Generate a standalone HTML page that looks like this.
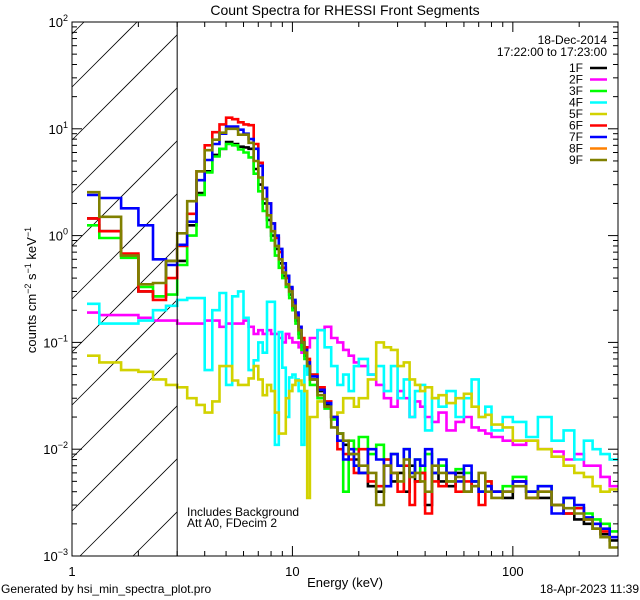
<!DOCTYPE html>
<html><head><meta charset="utf-8"><style>
html,body{margin:0;padding:0;background:#fff;width:640px;height:600px;overflow:hidden;}
svg{display:block;font-family:"Liberation Sans",sans-serif;}
</style></head><body>
<svg id="chart" width="640" height="600" viewBox="0 0 640 600" xmlns="http://www.w3.org/2000/svg">
<rect width="640" height="600" fill="#fff"/>
<text x="345" y="15" font-size="14" text-anchor="middle">Count Spectra for RHESSI Front Segments</text>
<defs><clipPath id="pclip"><rect x="72" y="22" width="546" height="534"/></clipPath></defs>
<g id="hatch"></g>
<g id="series" clip-path="url(#pclip)"></g>
<g id="axes"></g>
<line id="thr" x1="177" y1="22" x2="177" y2="556" stroke="#000" stroke-width="1"/>
<text x="187" y="516" font-size="12">Includes Background</text>
<text x="187" y="527" font-size="12">Att A0, FDecim 2</text>
<text x="607" y="44" font-size="12" text-anchor="end">18-Dec-2014</text>
<text x="607" y="56" font-size="12" text-anchor="end">17:22:00 to 17:23:00</text>
<g id="legend"></g>
<text x="345" y="587" font-size="13" text-anchor="middle">Energy (keV)</text>
<text transform="translate(36,290) rotate(-90)" font-size="13" text-anchor="middle">counts cm<tspan dy="-5" font-size="9">−2</tspan><tspan dy="5"> s</tspan><tspan dy="-5" font-size="9">−1</tspan><tspan dy="5"> keV</tspan><tspan dy="-5" font-size="9">−1</tspan></text>
<text x="1" y="593" font-size="12">Generated by hsi_min_spectra_plot.pro</text>
<text x="639" y="593" font-size="12" text-anchor="end">18-Apr-2023 11:39</text>
</svg>
<script>
const edges=[1.17,1.33,1.67,2,2.33,2.67,3,3.33,3.67,4,4.33,4.67,5,5.33,5.67,6,6.33,6.67,7,7.33,7.67,8,8.33,8.67,9,9.33,9.67,10,10.33,10.67,11,11.33,11.67,12,13,14,15,16,17,18,19,20,22,24,26,28,30,32,34,36,38,40,43,46,50,55,60,65,70,75,80,90,100,115,130,150,170,190,210,230,250,275,300];
const seriesNames=["1F","2F","3F","4F","5F","6F","7F","8F","9F"];
const s1F=[1.45,1.1,0.65,0.3,0.27,0.58, 0.58,1.25,2.5,4.0,5.7,6.5,7.5,7.2,6.8,6.7,6.5,4.2,3.0,2.0,1.4,1.0,0.75,0.55,0.42,0.35,0.28,0.21,0.16,0.12,0.09,0.075,0.06, 0.045,0.035,0.026,0.02,0.014,0.011,0.009,0.008, 0.006,0.0045,0.004,0.007,0.005,0.006,0.004,0.007,0.005,0.006, 0.003,0.006,0.005, 0.0045,0.006,0.004,0.005,0.004,0.0045,0.004, 0.0035, 0.005,0.004,0.0035,0.003,0.0025,0.0022,0.002,0.0018,0.0016,0.0014];
const s2F=[0.19,0.18,0.18,0.17,0.16,0.16, 0.15,0.15,0.15,0.16,0.16,0.14,0.15,0.15,0.15,0.16,0.14,0.12,0.13,0.12,0.13,0.12,0.12,0.11,0.1,0.12,0.11,0.1,0.1,0.09,0.08,0.085,0.09, 0.11,0.13,0.14,0.11,0.1,0.085,0.075,0.065, 0.06,0.05,0.04,0.03,0.025,0.035,0.03,0.02,0.028,0.025, 0.02,0.018,0.022, 0.015,0.018,0.02,0.016,0.015,0.014,0.013, 0.012, 0.011,0.012,0.01,0.0095,0.008,0.009,0.007,0.007,0.0055,0.0045];
const s3F=[1.25,0.95,0.62,0.33,0.27,0.28, 0.53,1.0,2.4,3.9,5.5,6.5,7.2,7.0,6.4,6.0,5.4,3.8,2.6,1.7,1.2,0.9,0.65,0.5,0.4,0.33,0.26,0.2,0.15,0.11,0.085,0.07,0.055, 0.04,0.03,0.024,0.019,0.014,0.004,0.012,0.01, 0.013,0.009,0.011,0.008,0.009,0.007,0.01,0.006,0.008,0.006, 0.009,0.006,0.007, 0.005,0.0065,0.006,0.005,0.004,0.005,0.004, 0.0045, 0.0055,0.004,0.0045,0.003,0.0035,0.0028,0.0025,0.0022,0.002,0.0017];
const s4F=[0.23,0.15,0.15,0.16,0.2,0.22, 0.25,0.26,0.26,0.055,0.2,0.29,0.04,0.27,0.3,0.17,0.055,0.068,0.1,0.08,0.24,0.24,0.011,0.125,0.058,0.02,0.047,0.05,0.045,0.035,0.011,0.06,0.05, 0.05,0.13,0.09,0.06,0.04,0.05,0.035,0.06, 0.07,0.05,0.06,0.035,0.06,0.03,0.045,0.02,0.035,0.04, 0.015,0.03,0.025, 0.035,0.02,0.03,0.045,0.02,0.025,0.015, 0.02, 0.018,0.013,0.02,0.012,0.015,0.008,0.012,0.01,0.009,0.008];
const s5F=[0.075,0.065,0.055,0.053,0.045,0.04, 0.038,0.03,0.026,0.022,0.028,0.06,0.06,0.044,0.04,0.04,0.046,0.06,0.045,0.032,0.04,0.035,0.022,0.014,0.014,0.03,0.035,0.04,0.044,0.044,0.04,0.035,0.0035, 0.02,0.028,0.025,0.02,0.022,0.03,0.03,0.025, 0.03,0.045,0.1,0.09,0.085,0.06,0.065,0.045,0.04,0.035, 0.038,0.03,0.032, 0.027,0.03,0.033,0.025,0.02,0.021,0.017, 0.016, 0.012,0.012,0.01,0.0085,0.007,0.006,0.0055,0.0045,0.004,0.0042];
const s6F=[1.45,1.1,0.68,0.3,0.25,0.4, 0.8,1.6,4.0,7.0,9.3,11,12.7,12.3,11.5,11,10.8,7.2,4.8,2.8,2.0,1.3,0.95,0.7,0.5,0.4,0.32,0.24,0.18,0.14,0.11,0.09,0.07, 0.05,0.038,0.028,0.02,0.01,0.009,0.008,0.006, 0.01,0.005,0.0045,0.008,0.006,0.004,0.007,0.003,0.005,0.006, 0.0025,0.005,0.0045, 0.006,0.004,0.005,0.0045,0.003,0.005,0.004, 0.004, 0.005,0.0035,0.004,0.003,0.0025,0.0028,0.0022,0.002,0.0017,0.0015];
const s7F=[2.4,2.25,1.8,1.25,0.6,0.53, 0.82,1.35,3.3,5.1,7.2,9,10.5,10.5,9.8,9,8,6.5,4.5,2.8,2.0,1.3,1.0,0.75,0.55,0.42,0.33,0.25,0.19,0.14,0.1,0.085,0.065, 0.048,0.036,0.027,0.02,0.012,0.008,0.01,0.007, 0.006,0.01,0.008,0.0045,0.009,0.007,0.01,0.006,0.008,0.007, 0.01,0.006,0.008, 0.006,0.005,0.007,0.005,0.004,0.0045,0.004, 0.004, 0.005,0.004,0.0045,0.0025,0.0035,0.003,0.0023,0.002,0.0018,0.0015];
const s8F=[];
const s9F=[2.55,1.5,0.65,0.35,0.36,0.58, 1.05,2.1,4.0,6.3,7.9,9.2,10,10,8.8,8.8,7.4,5.0,3.5,2.2,1.55,1.1,0.8,0.6,0.45,0.35,0.3,0.22,0.17,0.13,0.1,0.08,0.06, 0.045,0.032,0.025,0.016,0.014,0.012,0.009,0.009, 0.007,0.006,0.003,0.007,0.006,0.005,0.008,0.0055,0.006,0.005, 0.004,0.007,0.006, 0.005,0.0055,0.004,0.0045,0.006,0.004,0.0035, 0.004, 0.0045,0.0035,0.004,0.003,0.0028,0.0025,0.0022,0.0018,0.0015,0.0012];
const seriesValues=[s1F,s2F,s3F,s4F,s5F,s6F,s7F,s8F,s9F];
const colors=["#000000","#ff00ff","#00ff00","#00ffff","#d2d200","#ff0000","#0000ff","#ff8000","#808000"];
const xTicks=[1,10,100];
const yTicks=[-3,-2,-1,0,1,2];

const NS="http://www.w3.org/2000/svg";
const L=72,R=618,T=22,B=556;
const xMin=0,xMax=Math.log10(300),yMin=-3,yMax=2;
function xs(e){return L+(Math.log10(e)-xMin)/(xMax-xMin)*(R-L);}
function ys(v){return B-(Math.log10(v)-yMin)/(yMax-yMin)*(B-T);}
function mk(tag,attrs,parent){const el=document.createElementNS(NS,tag);for(const k in attrs)el.setAttribute(k,attrs[k]);parent.appendChild(el);return el;}

const xT=xs(3);
const thr=document.getElementById('thr');
thr.setAttribute('x1',xT);thr.setAttribute('x2',xT);

// hatch lines clipped manually: y = c - (x - L)
const hg=document.getElementById('hatch');
for(let c=T-200;c<B+200;c+=53){
  let xa=L, ya=c;
  if(ya>B){xa=L+(ya-B);ya=B;}
  let xb=xT, yb=c-(xT-L);
  if(yb<T){xb=L+(c-T);yb=T;}
  if(xa>=xT||xb<=L||xb<=xa)continue;
  const ln=mk('line',{x1:xa,y1:ya,x2:xb,y2:yb,stroke:'#000','stroke-width':0.8},hg);
  
  
}

const sg=document.getElementById('series');
seriesValues.forEach((vals,i)=>{
  if(!vals.length)return;
  let d='';
  vals.forEach((v,j)=>{
    const x0=xs(edges[j]),x1=xs(edges[j+1]),y=ys(v);
    d+=(j===0?'M':'L')+x0.toFixed(1)+','+y.toFixed(1)+'L'+x1.toFixed(1)+','+y.toFixed(1);
  });
  const p=mk('path',{d:d,fill:'none',stroke:colors[i],'stroke-width':2.6,'stroke-linejoin':'miter'},sg);
  
  
});

const ag=document.getElementById('axes');
const fr=mk('rect',{x:L,y:T,width:R-L,height:B-T,fill:'none',stroke:'#000','stroke-width':1},ag);


for(let dec=0;dec<3;dec++){
  for(let m=1;m<10;m++){
    const e=m*Math.pow(10,dec);
    if(e>300)break;
    const x=xs(e),len=(m===1)?10:5;
    mk('line',{x1:x,y1:B,x2:x,y2:B-len,stroke:'#000'},ag);
    mk('line',{x1:x,y1:T,x2:x,y2:T+len,stroke:'#000'},ag);
  }
}
xTicks.forEach(t=>{
  const tx=mk('text',{x:xs(t),y:576,'font-size':13,'text-anchor':'middle'},ag);
  tx.textContent=String(t);
  
  
});
for(let dec=-3;dec<2;dec++){
  for(let m=1;m<10;m++){
    const v=m*Math.pow(10,dec),y=ys(v),len=(m===1)?10:5;
    mk('line',{x1:L,y1:y,x2:L+len,y2:y,stroke:'#000'},ag);
    mk('line',{x1:R,y1:y,x2:R-len,y2:y,stroke:'#000'},ag);
  }
}
yTicks.forEach(t=>{
  const y=ys(Math.pow(10,t));
  const tx=mk('text',{x:68,y:y+5,'font-size':13,'text-anchor':'end'},ag);
  
  
  const a=document.createElementNS(NS,'tspan');a.textContent='10';tx.appendChild(a);
  const b=document.createElementNS(NS,'tspan');b.setAttribute('dy','-6');b.setAttribute('font-size','9');b.textContent=(t<0?'−':'')+Math.abs(t);tx.appendChild(b);
});

const lg=document.getElementById('legend');
seriesNames.forEach((n,i)=>{
  const y=68+i*11.5;
  const g=mk('g',{},lg);
  
  
  const t=mk('text',{x:583,y:y+4,'font-size':12,'text-anchor':'end'},g);
  t.textContent=n;
  mk('line',{x1:590,y1:y,x2:607,y2:y,stroke:colors[i],'stroke-width':2.6},g);
});
</script>
</body></html>
